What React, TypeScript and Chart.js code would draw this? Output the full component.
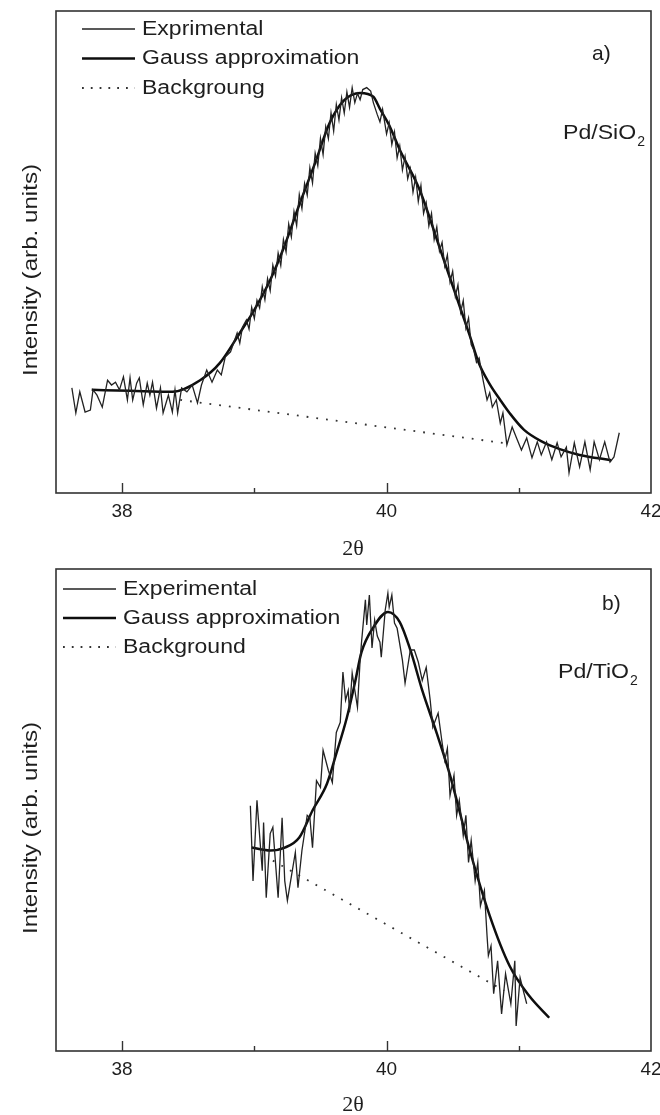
import React, { useEffect, useRef } from "react";
import { Chart, registerables } from "chart.js";

Chart.register(...registerables);

// ---------- Panel a) Pd/SiO2 ----------
const A_EXP_X = [
  37.62, 37.65, 37.68, 37.72, 37.76, 37.78, 37.81, 37.85, 37.89, 37.92, 37.95, 37.98, 38.01, 38.04, 38.06,
  38.08, 38.11, 38.13, 38.16, 38.19, 38.21, 38.23, 38.26, 38.29, 38.31, 38.35, 38.38, 38.40, 38.42, 38.45,
  38.49, 38.53, 38.57, 38.60, 38.64, 38.68, 38.72, 38.75, 38.78, 38.82, 38.87, 38.89, 38.91, 38.94,
  38.96, 38.98, 39.00, 39.02, 39.04, 39.06, 39.08, 39.10, 39.12, 39.14, 39.16, 39.18, 39.20, 39.22, 39.24,
  39.26, 39.28, 39.30, 39.32, 39.34, 39.36, 39.38, 39.40, 39.42, 39.44, 39.46, 39.48, 39.50, 39.52, 39.54,
  39.56, 39.58, 39.60, 39.62, 39.64, 39.66, 39.68, 39.70, 39.72, 39.74, 39.76,
  39.78, 39.80, 39.82, 39.85, 39.88, 39.90, 39.93, 39.95, 39.97, 40.00, 40.02, 40.04, 40.06, 40.08, 40.10,
  40.12, 40.14, 40.16, 40.18, 40.20, 40.22, 40.24, 40.26, 40.28, 40.30, 40.32, 40.34, 40.36, 40.38, 40.40,
  40.42, 40.44, 40.46, 40.48, 40.50, 40.52, 40.54, 40.56, 40.58, 40.60, 40.62, 40.64, 40.66, 40.68, 40.70,
  40.73, 40.76, 40.78, 40.80, 40.83, 40.86, 40.88, 40.91, 40.95, 40.98, 41.02, 41.06, 41.10, 41.14, 41.17,
  41.21, 41.25, 41.29, 41.32, 41.36, 41.38, 41.42, 41.46, 41.50, 41.54, 41.57, 41.61, 41.65, 41.69, 41.72,
  41.76,
];
const A_EXP_Y = [
  21.8, 16.6, 21.0, 16.8, 17.2, 21.4, 20.3, 17.8, 23.4, 22.4, 23.0, 21.4, 24.1, 19.3, 23.9,
  19.3, 22.8, 23.9, 18.3, 22.8, 20.3, 23.0, 17.6, 21.8, 16.6, 20.3, 16.8, 21.4, 16.6, 21.8,
  21.0, 22.4, 18.7, 22.4, 25.5, 23.0, 25.5, 24.5, 28.2, 29.3, 33.2, 31.1, 34.4, 35.9,
  34.0, 38.5, 36.2, 40.0, 38.4, 42.8, 40.1, 44.5, 42.0, 47.3, 45.0, 49.8, 47.2, 52.6, 50.0,
  55.8, 53.1, 58.4, 55.5, 61.9, 59.0, 64.2, 61.8, 67.5, 64.3, 70.5, 67.9, 73.6, 70.2, 76.0,
  73.5, 78.9, 75.1, 80.6, 77.4, 82.0, 78.8, 83.2, 80.0, 84.1, 81.0,
  82.9, 81.6, 83.7, 84.1, 83.4, 81.0, 78.5, 77.0, 79.6, 74.5, 76.8, 72.3, 74.9, 69.5, 72.0,
  67.0, 69.8, 65.2, 67.3, 62.4, 65.5, 60.5, 63.8, 58.0, 60.2, 55.4, 58.0, 52.6, 55.2, 50.2,
  52.0, 47.1, 49.4, 43.8, 46.0, 40.8, 43.2, 37.5, 39.9, 34.2, 36.3, 30.8, 29.6, 27.1, 28.0,
  23.4, 19.3, 20.8, 17.8, 19.3, 14.5, 16.6, 10.0, 13.7, 11.6, 8.9, 11.4, 7.3, 10.6, 7.9,
  10.6, 6.9, 10.4, 7.5, 9.5, 4.2, 10.4, 5.4, 10.6, 4.8, 10.6, 6.9, 10.6, 6.4, 7.5,
  12.5,
];
const A_FIT_X = [
  37.77, 38.06, 38.38, 38.59, 38.74, 38.89, 39.00, 39.12, 39.23, 39.34, 39.46, 39.57, 39.68, 39.80, 39.90,
  39.95, 40.02, 40.10, 40.25, 40.40, 40.55, 40.63, 40.70, 40.78, 40.86, 40.93, 41.04, 41.18, 41.31, 41.46,
  41.70,
];
const A_FIT_Y = [
  21.4, 21.2, 21.0, 23.4, 27.0, 33.2, 38.0, 44.2, 51.4, 59.8, 68.5, 76.8, 81.5, 83.0, 82.2,
  79.7, 76.3, 71.2, 62.9, 51.0, 39.0, 32.6, 26.8, 22.6, 19.3, 16.6, 13.1, 10.6, 9.1, 7.9,
  6.8,
];
const A_BG_X = [38.44, 40.88];
const A_BG_Y = [19.3, 10.4];
const A_LEGEND = ["Exprimental", "Gauss approximation", "Backgroung"];

// ---------- Panel b) Pd/TiO2 ----------
const B_EXP_X = [
  38.97, 38.99, 39.02, 39.06, 39.07, 39.09, 39.12, 39.14, 39.18, 39.21, 39.23, 39.25, 39.31, 39.33, 39.36,
  39.40, 39.42, 39.44, 39.47, 39.50, 39.52, 39.56, 39.59, 39.62, 39.65, 39.67, 39.69, 39.71, 39.72, 39.74,
  39.78, 39.80, 39.81, 39.84, 39.85, 39.87, 39.89, 39.91, 39.93, 39.95, 39.96, 39.99, 40.01, 40.02, 40.04,
  40.06, 40.08, 40.12, 40.14, 40.18, 40.21, 40.24, 40.27, 40.30, 40.33, 40.35, 40.39, 40.42, 40.44, 40.46,
  40.48, 40.51, 40.53, 40.55, 40.58, 40.60, 40.62, 40.64, 40.67, 40.69, 40.71, 40.74, 40.76, 40.77, 40.79,
  40.81, 40.84, 40.87, 40.90, 40.94, 40.97, 40.98, 41.01, 41.04, 41.06,
];
const B_EXP_Y = [
  50.9, 35.3, 52.0, 37.4, 47.4, 31.8, 45.1, 46.4, 31.8, 48.4, 35.3, 31.2, 41.2, 33.9, 41.6,
  48.9, 48.4, 42.2, 56.1, 54.7, 62.4, 58.2, 55.7, 66.1, 68.2, 78.6, 72.8, 74.8, 70.3, 78.4,
  71.3, 81.1, 84.6, 93.6, 88.4, 94.6, 83.6, 89.4, 86.1, 84.8, 81.7, 91.5, 95.0, 92.1, 94.6,
  88.8, 87.7, 81.1, 76.3, 83.2, 83.2, 80.7, 76.9, 79.6, 72.8, 67.2, 70.1, 64.0, 60.3, 62.8,
  53.0, 57.2, 48.9, 52.0, 44.7, 48.9, 39.1, 43.7, 35.3, 39.1, 30.1, 33.3, 23.9, 19.8, 21.8,
  11.9, 18.7, 7.7, 16.0, 9.8, 18.7, 5.2, 15.2, 11.9, 9.8,
];
const B_FIT_X = [
  38.98, 39.12, 39.23, 39.34, 39.44, 39.55, 39.62, 39.70, 39.76, 39.81, 39.90, 40.01, 40.10, 40.18, 40.27,
  40.38, 40.48, 40.63, 40.78, 40.93, 41.08, 41.23,
];
const B_FIT_Y = [
  42.2, 41.6, 42.2, 44.3, 49.9, 55.5, 61.7, 69.2, 76.3, 82.7, 87.9, 91.1, 89.0, 83.2, 74.8,
  65.9, 57.2, 41.6, 28.1, 17.7, 11.4, 6.9,
];
const B_BG_X = [39.14, 40.89];
const B_BG_Y = [39.5, 12.5];
const B_LEGEND = ["Experimental", "Gauss approximation", "Background"];

// ---------- Axis ----------
const X_MIN = 37.5;
const X_MAX = 42;
const X_TICKS = [38, 39, 40, 41];
const X_LABEL_TICKS = [38, 40, 42];
const Y_MIN = 0;
const Y_MAX = 100;

const zip = (xs: number[], ys: number[]) => xs.map((x, i) => ({ x, y: ys[i] }));

const SANS = '"Liberation Sans", Arial, sans-serif';
const SERIF = '"Liberation Serif", "Times New Roman", serif';
const TEXT = "#1e1e1e";
const EXP_COLOR = "#222";
const FIT_COLOR = "#0e0e0e";
const BG_COLOR = "#333";

type PanelSpec = {
  expX: number[]; expY: number[]; fitX: number[]; fitY: number[]; bgX: number[]; bgY: number[];
  legend: string[]; legendLineX: number; legendTextX: number; legendY: number[];
  tag: string; tagX: number; tagY: number;
  sample: string; sampleX: number; sampleY: number;
  xTitleY: number;
};

function stretchText(ctx: CanvasRenderingContext2D, text: string, x: number, y: number, sx: number) {
  ctx.save();
  ctx.translate(x, y);
  ctx.scale(sx, 1);
  ctx.fillText(text, 0, 0);
  const w = ctx.measureText(text).width * sx;
  ctx.restore();
  return w;
}

function makePlugin(p: PanelSpec) {
  return {
    id: "decor",
    afterDraw(chart: any) {
      const ctx: CanvasRenderingContext2D = chart.ctx;
      const a = chart.chartArea;
      const xs = chart.scales.x;
      ctx.save();
      // frame
      ctx.strokeStyle = "#333";
      ctx.lineWidth = 1.6;
      ctx.setLineDash([]);
      ctx.strokeRect(a.left, a.top, a.right - a.left, a.bottom - a.top);
      // inward ticks
      ctx.lineWidth = 1.4;
      X_TICKS.forEach((v) => {
        const px = Math.round(xs.getPixelForValue(v)) + 0.5;
        const len = X_LABEL_TICKS.includes(v) ? 10 : 5;
        ctx.beginPath();
        ctx.moveTo(px, a.bottom);
        ctx.lineTo(px, a.bottom - len);
        ctx.stroke();
      });
      // legend
      ctx.fillStyle = TEXT;
      ctx.textBaseline = "middle";
      ctx.textAlign = "left";
      ctx.font = `20px ${SANS}`;
      const styles = [
        { w: 1.3, dash: [] as number[], c: EXP_COLOR },
        { w: 2.5, dash: [] as number[], c: FIT_COLOR },
        { w: 1.8, dash: [1.8, 7], c: BG_COLOR },
      ];
      p.legend.forEach((t, i) => {
        const y = p.legendY[i];
        const s = styles[i];
        ctx.strokeStyle = s.c;
        ctx.lineWidth = s.w;
        ctx.setLineDash(s.dash);
        ctx.beginPath();
        ctx.moveTo(p.legendLineX, y);
        ctx.lineTo(p.legendLineX + 53, y);
        ctx.stroke();
        ctx.setLineDash([]);
        stretchText(ctx, t, p.legendTextX, y, 1.15);
      });
      // tag a) / b)
      ctx.font = `21px ${SANS}`;
      ctx.fillText(p.tag, p.tagX, p.tagY);
      // sample name with subscript
      const w = stretchText(ctx, p.sample, p.sampleX, p.sampleY, 1.1);
      ctx.font = `14px ${SANS}`;
      ctx.fillText("2", p.sampleX + w + 1, p.sampleY + 9);
      // y title
      ctx.font = `21px ${SANS}`;
      ctx.save();
      ctx.translate(31, 270);
      ctx.rotate(-Math.PI / 2);
      ctx.scale(1.15, 1);
      ctx.textAlign = "center";
      ctx.fillText("Intensity (arb. units)", 0, 0);
      ctx.restore();
      // x title
      ctx.font = `22px ${SERIF}`;
      ctx.textAlign = "center";
      ctx.fillText("2θ", 353, p.xTitleY);
      ctx.restore();
    },
  };
}

function makeConfig(p: PanelSpec): any {
  return {
    type: "scatter",
    data: {
      datasets: [
        {
          label: p.legend[0],
          data: zip(p.expX, p.expY),
          showLine: true,
          borderColor: EXP_COLOR,
          borderWidth: 1.3,
          pointRadius: 0,
          tension: 0,
        },
        {
          label: p.legend[1],
          data: zip(p.fitX, p.fitY),
          showLine: true,
          borderColor: FIT_COLOR,
          borderWidth: 2.5,
          pointRadius: 0,
          cubicInterpolationMode: "monotone",
        },
        {
          label: p.legend[2],
          data: zip(p.bgX, p.bgY),
          showLine: true,
          borderColor: BG_COLOR,
          borderWidth: 1.8,
          borderDash: [1.8, 8],
          pointRadius: 0,
        },
      ],
    },
    options: {
      animation: false,
      responsive: false,
      devicePixelRatio: 1,
      layout: { padding: { top: 11, right: 9, left: 0, bottom: 0 } },
      plugins: { legend: { display: false }, tooltip: { enabled: false } },
      scales: {
        x: {
          type: "linear",
          min: X_MIN,
          max: X_MAX,
          grid: { display: false, drawTicks: false },
          border: { display: false },
          ticks: {
            stepSize: 1,
            autoSkip: false,
            maxRotation: 0,
            padding: 7,
            color: TEXT,
            font: { family: SANS, size: 19 },
            callback: (v: number) => (X_LABEL_TICKS.includes(v) ? String(v) : ""),
          },
          afterFit: (s: any) => {
            s.height = 64;
            s.paddingLeft = 0;
            s.paddingRight = 0;
          },
        },
        y: {
          type: "linear",
          min: Y_MIN,
          max: Y_MAX,
          grid: { display: false },
          border: { display: false },
          ticks: { display: false },
          afterFit: (s: any) => {
            s.width = 56;
          },
        },
      },
    },
    plugins: [makePlugin(p)],
  };
}

const PANEL_A: PanelSpec = {
  expX: A_EXP_X, expY: A_EXP_Y, fitX: A_FIT_X, fitY: A_FIT_Y, bgX: A_BG_X, bgY: A_BG_Y,
  legend: A_LEGEND, legendLineX: 82, legendTextX: 142, legendY: [29, 58.5, 88],
  tag: "a)", tagX: 592, tagY: 54,
  sample: "Pd/SiO", sampleX: 563, sampleY: 133,
  xTitleY: 549,
};
const PANEL_B: PanelSpec = {
  expX: B_EXP_X, expY: B_EXP_Y, fitX: B_FIT_X, fitY: B_FIT_Y, bgX: B_BG_X, bgY: B_BG_Y,
  legend: B_LEGEND, legendLineX: 63, legendTextX: 123, legendY: [31, 60, 89],
  tag: "b)", tagX: 602, tagY: 46,
  sample: "Pd/TiO", sampleX: 558, sampleY: 114,
  xTitleY: 547,
};

function Panel({ spec, top }: { spec: PanelSpec; top: number }) {
  const ref = useRef<HTMLCanvasElement | null>(null);
  useEffect(() => {
    if (!ref.current) return;
    const chart = new Chart(ref.current, makeConfig(spec));
    return () => chart.destroy();
  }, [spec]);
  return (
    <canvas
      ref={ref}
      width={660}
      height={557}
      style={{ position: "absolute", left: 0, top, width: 660, height: 557, display: "block" }}
    />
  );
}

export default function App() {
  return (
    <div style={{ position: "absolute", left: 0, top: 0, width: 660, height: 1115, background: "#fff" }}>
      <Panel spec={PANEL_A} top={0} />
      <Panel spec={PANEL_B} top={558} />
    </div>
  );
}
